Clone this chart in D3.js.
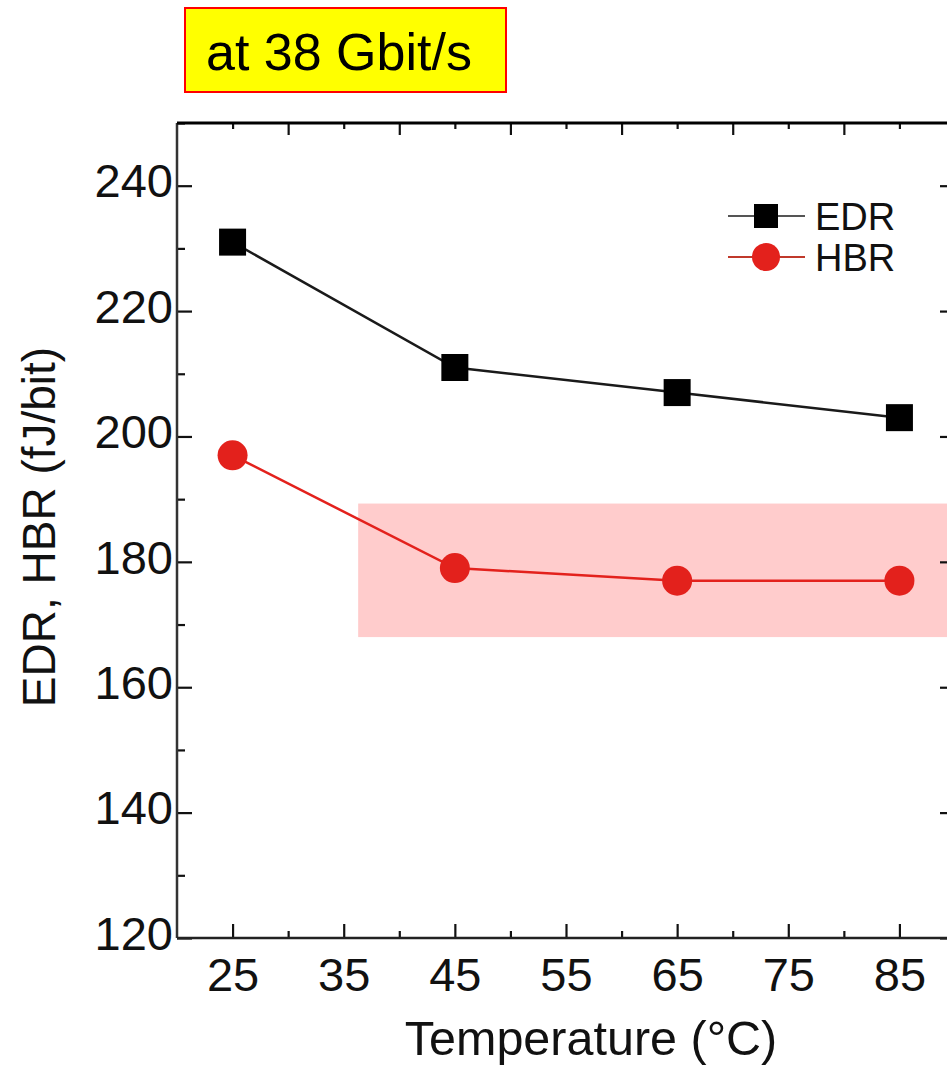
<!DOCTYPE html>
<html>
<head>
<meta charset="utf-8">
<script src="https://cdn.jsdelivr.net/npm/d3@7"></script>
<style>
  html, body { margin: 0; padding: 0; background: #fff; overflow: hidden; }
  svg { display: block; font-family: Arial, "Liberation Sans", sans-serif; }
</style>
</head>
<body>
<svg id="chart" width="947" height="1069"></svg>
<script>
// ---- data ----
const temperatures = [25, 45, 65, 85];
const edrValues = [231, 211, 207, 203];
const hbrValues = [197, 179, 177, 177];
const seriesNames = ["EDR", "HBR"];
const xTickLabels = [25, 35, 45, 55, 65, 75, 85];
const yTickLabels = [120, 140, 160, 180, 200, 220, 240];
const highlightX = [36.3, 90];
const highlightY = [168, 189.3];
const titleText = "at 38 Gbit/s";
const xTitle = "Temperature (°C)";
const yTitle = "EDR, HBR (fJ/bit)";

(function () {
// ---- layout ----
const svg = d3.select("#chart");
const pL = 177, pR = 955, pT = 123, pB = 938;
const x = d3.scaleLinear().domain([20, 90]).range([pL, pR]);
const y = d3.scaleLinear().domain([120, 250]).range([pB, pT]);
const black = "#111";
const red = "#e3211c";

// highlight band
svg.append("rect")
  .attr("x", x(highlightX[0])).attr("y", y(highlightY[1]))
  .attr("width", x(highlightX[1]) - x(highlightX[0]))
  .attr("height", y(highlightY[0]) - y(highlightY[1]))
  .attr("fill", "#ffcccc");

// title box
svg.append("rect").attr("x", 185).attr("y", 8).attr("width", 321).attr("height", 84)
  .attr("fill", "#ffff00").attr("stroke", "#ff0000").attr("stroke-width", 2);
svg.append("text").attr("x", 206).attr("y", 70).attr("font-size", 52)
  .attr("fill", "#000").text(titleText);

// axes
const majorX = xTickLabels;
const minorX = d3.range(30, 90, 10);
const topMajor = d3.range(30, 90, 10);
const topMinor = d3.range(25, 90, 10);
const majorY = yTickLabels;
const minorY = d3.range(130, 251, 20);

function fmt(d) { return d; }

// bottom
const gB = svg.append("g").attr("transform", `translate(0,${pB})`);
gB.call(d3.axisBottom(x).tickValues(majorX).tickSize(-14).tickPadding(20).tickFormat(fmt));
gB.append("g").call(d3.axisBottom(x).tickValues(minorX).tickSize(-7).tickFormat(""));
// top
const gT = svg.append("g").attr("transform", `translate(0,${pT})`);
gT.call(d3.axisTop(x).tickValues(topMajor).tickSize(-12).tickFormat(""));
gT.append("g").call(d3.axisTop(x).tickValues(topMinor).tickSize(-6).tickFormat(""));
// left
const gL = svg.append("g").attr("transform", `translate(${pL},0)`);
gL.call(d3.axisLeft(y).tickValues(majorY).tickSize(-15).tickPadding(4).tickFormat(fmt));
gL.append("g").call(d3.axisLeft(y).tickValues(minorY).tickSize(-8).tickFormat(""));
// right
const gR = svg.append("g").attr("transform", `translate(${pR},0)`);
gR.call(d3.axisRight(y).tickValues(majorY).tickSize(-15).tickFormat(""));
gR.append("g").call(d3.axisRight(y).tickValues(minorY).tickSize(-8).tickFormat(""));

svg.selectAll(".domain").attr("stroke", "none");
svg.selectAll(".tick line").attr("stroke", black).attr("stroke-width", 2.2);
svg.selectAll(".tick text").attr("font-size", 47).attr("fill", "#111")
  .attr("font-family", "Arial, 'Liberation Sans', sans-serif");
gL.selectAll(".tick text").attr("dy", "0.24em");
gB.selectAll(".tick text").attr("dy", "0.71em");

// frame
svg.append("line").attr("x1", pL).attr("x2", pL).attr("y1", pT).attr("y2", pB)
  .attr("stroke", "#333").attr("stroke-width", 2.5);
svg.append("line").attr("x1", pL).attr("x2", pR).attr("y1", pB).attr("y2", pB)
  .attr("stroke", "#222").attr("stroke-width", 2.5);
svg.append("line").attr("x1", pL).attr("x2", pR).attr("y1", pT).attr("y2", pT)
  .attr("stroke", "#000").attr("stroke-width", 3);
svg.append("line").attr("x1", pR).attr("x2", pR).attr("y1", pT).attr("y2", pB)
  .attr("stroke", "#000").attr("stroke-width", 2.5);

// series
const line = d3.line().x(d => x(d[0])).y(d => y(d[1]));
const edr = temperatures.map((t, i) => [t, edrValues[i]]);
const hbr = temperatures.map((t, i) => [t, hbrValues[i]]);

svg.append("path").datum(edr).attr("d", line).attr("fill", "none")
  .attr("stroke", "#1a1a1a").attr("stroke-width", 2.5);
svg.append("path").datum(hbr).attr("d", line).attr("fill", "none")
  .attr("stroke", red).attr("stroke-width", 2.5);

const sq = 27;
svg.selectAll(".edr").data(edr).enter().append("rect")
  .attr("x", d => x(d[0]) - sq / 2).attr("y", d => y(d[1]) - sq / 2)
  .attr("width", sq).attr("height", sq).attr("fill", "#000");
svg.selectAll(".hbr").data(hbr).enter().append("circle")
  .attr("cx", d => x(d[0])).attr("cy", d => y(d[1])).attr("r", 15)
  .attr("fill", red);

// legend
const lg = svg.append("g");
const rows = [
  { name: seriesNames[0], yy: 216, marker: "square" },
  { name: seriesNames[1], yy: 257, marker: "circle" }
];
rows.forEach(r => {
  lg.append("line").attr("x1", 728).attr("x2", 805).attr("y1", r.yy).attr("y2", r.yy)
    .attr("stroke", r.marker === "square" ? "#555" : "#c0392b").attr("stroke-width", 2.2);
  if (r.marker === "square") {
    lg.append("rect").attr("x", 766 - 12).attr("y", r.yy - 12).attr("width", 24).attr("height", 24).attr("fill", "#000");
  } else {
    lg.append("circle").attr("cx", 766).attr("cy", r.yy).attr("r", 14).attr("fill", red);
  }
  lg.append("text").attr("x", 815).attr("y", r.yy).attr("dy", "0.36em")
    .attr("font-size", 38).attr("fill", "#111").text(r.name);
});

// axis titles
svg.append("text").attr("x", 591).attr("y", 1055).attr("text-anchor", "middle")
  .attr("font-size", 48.5).attr("fill", "#111").text(xTitle);
svg.append("text").attr("transform", "translate(55,527) rotate(-90)")
  .attr("text-anchor", "middle").attr("font-size", 46).attr("fill", "#111").text(yTitle);
})();
</script>
</body>
</html>
